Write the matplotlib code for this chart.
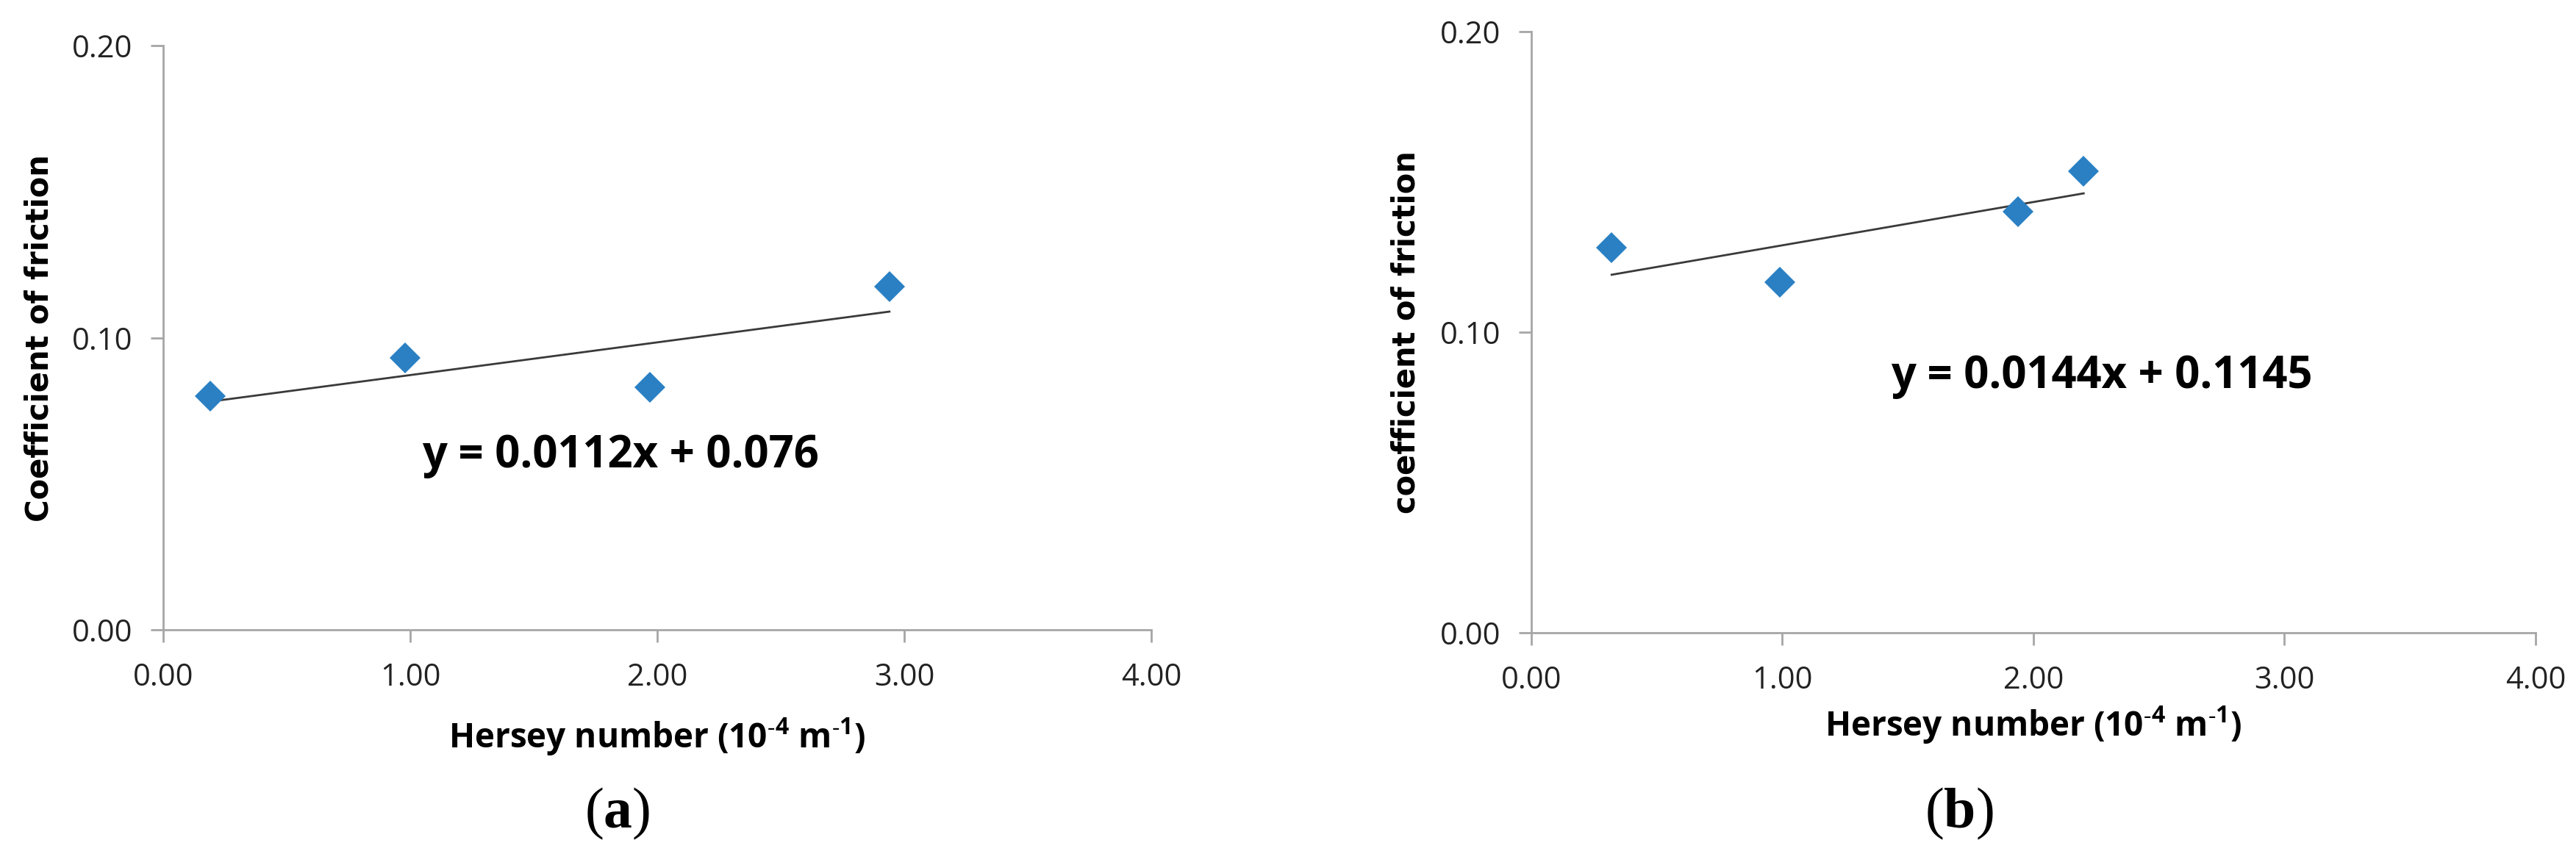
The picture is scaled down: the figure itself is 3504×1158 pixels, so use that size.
import numpy as np
import matplotlib
matplotlib.use("Agg")
import matplotlib.pyplot as plt

# Daten (a)
hersey_a = [0.19, 0.98, 1.97, 2.94]
friction_a = [0.080, 0.093, 0.083, 0.1175]
slope_a, intercept_a = 0.0112, 0.076

# Daten (b)
hersey_b = [0.32, 0.99, 1.94, 2.20]
friction_b = [0.128, 0.1167, 0.140, 0.1536]
slope_b, intercept_b = 0.0144, 0.1145

xticks = [0.0, 1.0, 2.0, 3.0, 4.0]
yticks = [0.0, 0.1, 0.2]

plt.rcParams['font.family'] = ['Open Sans', 'DejaVu Sans']
plt.rcParams['mathtext.fontset'] = 'custom'
plt.rcParams['mathtext.default'] = 'regular'
plt.rcParams['mathtext.bf'] = 'Liberation Serif:bold'

blau = "#2a80c3"
achse = "#a6a6a6"

fig = plt.figure(figsize=(35.04, 11.58), dpi=100)
ax_a = fig.add_axes([0.06336, 0.25993, 0.38356, 0.68653])
ax_b = fig.add_axes([0.59446, 0.25648, 0.38984, 0.70639])

panels = [
    (ax_a, hersey_a, friction_a, slope_a, intercept_a,
     "y = 0.0112x + 0.076", (1.048, 0.0556), -0.148),
    (ax_b, hersey_b, friction_b, slope_b, intercept_b,
     "y = 0.0144x + 0.1145", (1.432, 0.0814), -0.119),
]

for ax, xs, ys, m, b, eq, eqpos, xlab_y in panels:
    # Trendlinie über den Datenbereich
    xl = np.array([min(xs), max(xs)])
    ax.plot(xl, m * xl + b, color="#3a3a3a", lw=2, zorder=2)
    ax.plot(xs, ys, linestyle="none", marker="D", markersize=21,
            color=blau, markeredgewidth=0, zorder=3)

    ax.set_xlim(0, 4)
    ax.set_ylim(0, 0.2)
    ax.set_xticks(xticks)
    ax.set_yticks(yticks)
    ax.xaxis.set_major_formatter(matplotlib.ticker.FormatStrFormatter('%.2f'))
    ax.yaxis.set_major_formatter(matplotlib.ticker.FormatStrFormatter('%.2f'))
    ax.tick_params(axis='both', direction='out', length=12, width=2, color=achse,
                   labelsize=30, labelcolor="#222222")
    ax.tick_params(axis='x', pad=20)
    ax.tick_params(axis='y', pad=18)

    for s in ['top', 'right']:
        ax.spines[s].set_visible(False)
    for s in ['left', 'bottom']:
        ax.spines[s].set_color(achse)
        ax.spines[s].set_linewidth(2)

    # kurzer Bindestrich statt Minuszeichen wie im Original
    ax.set_xlabel('Hersey number (10$^{\u20104}$ m$^{\u20101}$)', fontsize=33,
                  fontweight='bold', va='top')
    ax.xaxis.set_label_coords(0.5, xlab_y)

    ax.text(eqpos[0], eqpos[1], eq, fontsize=43, fontweight='bold',
            ha='left', va='baseline')

# y-Achsenbeschriftungen
fig.text(54 / 3504, 1 - 460 / 1158, "Coefficient of friction", rotation=90,
         ha='center', va='center', fontsize=30, fontweight='bold',
         family='DejaVu Sans')
fig.text(1913 / 3504, 1 - 452 / 1158, "coefficient of friction", rotation=90,
         ha='center', va='center', fontsize=30, fontweight='bold',
         family='DejaVu Sans')

# Teilbild-Beschriftung
fig.text(840 / 3504, 0.044, r'$(\mathbf{a})$', ha='center', va='center',
         fontsize=56, family='Liberation Serif')
fig.text(2665 / 3504, 0.044, r'$(\mathbf{b})$', ha='center', va='center',
         fontsize=56, family='Liberation Serif')

fig.savefig("out.png", dpi=100)
